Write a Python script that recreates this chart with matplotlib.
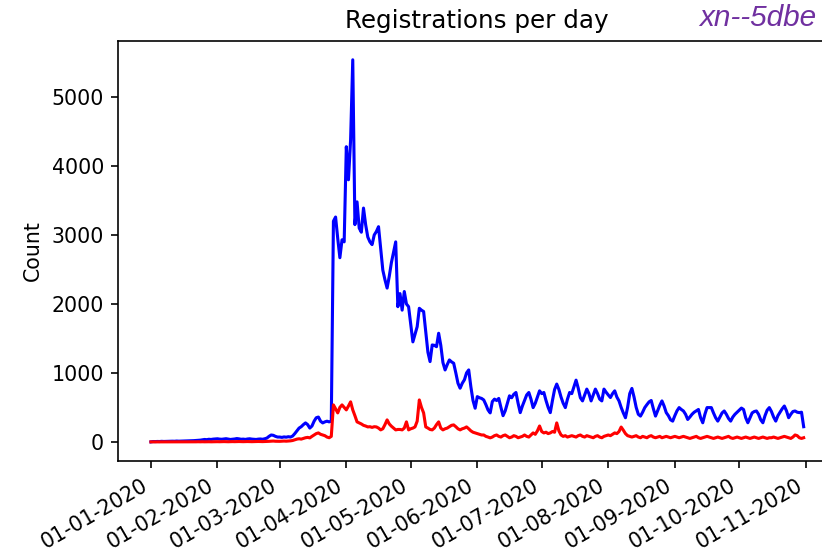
import numpy as np
import pandas as pd
import matplotlib
matplotlib.use("Agg")
import matplotlib.pyplot as plt
import matplotlib.dates as mdates

# daily counts, 01-01-2020 .. 31-10-2020
start_date = "2020-01-01"
end_date = "2020-10-31"

total_jan = [0, 5, 4, 6, 5, 8, 6, 7, 9, 8, 10, 9, 12, 10, 11, 13, 12, 15, 14, 16,
             18, 20, 22, 25, 30, 35, 32, 38, 35, 40, 42]
total_feb = [45, 40, 38, 42, 46, 40, 35, 38, 42, 48, 44, 38, 40, 36, 42, 45, 40, 38,
             35, 40, 42, 38, 45, 55, 80, 100, 95, 80, 70]
total_mar = [70, 65, 72, 68, 75, 70, 85, 120, 160, 200, 220, 250, 275, 250, 200, 230,
             300, 350, 360, 300, 275, 290, 300, 290, 300, 3200, 3260, 2950, 2670, 2930, 2900]
total_apr = [4280, 3800, 4380, 5540, 3150, 3480, 3100, 3040, 3390, 3150, 2970, 2900,
             2860, 3000, 3050, 3120, 2800, 2490, 2350, 2230, 2400, 2600, 2750, 2900,
             1960, 2150, 1910, 2180, 2000, 1960]
total_may = [1700, 1450, 1560, 1670, 1937, 1910, 1890, 1600, 1300, 1164, 1405, 1400,
             1380, 1575, 1400, 1150, 1043, 1120, 1188, 1160, 1140, 1000, 850, 778, 850,
             900, 1000, 1043, 800, 600, 488]
total_jun = [656, 640, 630, 608, 540, 463, 420, 584, 620, 600, 630, 500, 380, 450, 560,
             668, 640, 690, 716, 560, 424, 520, 600, 680, 716, 620, 497, 560, 650, 740]
total_jul = [700, 716, 600, 500, 424, 600, 760, 838, 760, 650, 560, 497, 620, 716, 700,
             800, 895, 780, 640, 594, 680, 765, 700, 594, 680, 765, 700, 620, 594, 765, 720]
total_aug = [680, 643, 700, 740, 650, 594, 500, 420, 350, 500, 700, 775, 650, 500, 400,
             374, 430, 497, 540, 580, 600, 480, 374, 450, 530, 594, 520, 424, 380, 320, 301]
total_sep = [380, 450, 497, 470, 448, 400, 325, 360, 400, 430, 450, 470, 350, 277, 400,
             497, 497, 497, 420, 350, 301, 360, 420, 448, 400, 340, 301, 360, 400, 430]
total_oct = [460, 490, 470, 350, 277, 350, 420, 440, 448, 400, 320, 277, 380, 460, 497,
             440, 360, 301, 380, 430, 480, 520, 450, 350, 400, 440, 448, 430, 424, 430, 220]

sub_jan = [0, 0, 0, 0, 1, 0, 0, 1, 0, 0, 1, 0, 1, 0, 0, 1, 0, 1, 0, 1, 0, 1, 2, 1, 2,
           1, 2, 2, 1, 2, 3]
sub_feb = [3, 2, 3, 4, 3, 2, 3, 4, 3, 4, 5, 4, 3, 4, 5, 4, 3, 4, 5, 6, 5, 4, 5, 6, 8,
           10, 12, 9, 8]
sub_mar = [8, 10, 12, 10, 12, 15, 20, 30, 40, 45, 40, 50, 60, 65, 58, 80, 100, 120,
           130, 110, 100, 90, 70, 60, 80, 536, 480, 420, 500, 536, 500]
sub_apr = [464, 520, 580, 464, 380, 290, 275, 260, 240, 230, 217, 220, 210, 220, 217,
           200, 174, 190, 250, 319, 260, 227, 200, 174, 180, 180, 174, 200, 290, 174]
sub_may = [190, 200, 217, 300, 608, 500, 420, 217, 200, 180, 174, 200, 250, 290, 200,
           174, 190, 200, 220, 240, 246, 220, 190, 174, 190, 200, 217, 190, 160, 140, 130]
sub_jun = [120, 110, 100, 100, 80, 70, 58, 70, 90, 100, 80, 70, 90, 100, 80, 60, 70,
           90, 80, 60, 70, 80, 100, 80, 70, 100, 130, 110, 160, 230]
sub_jul = [150, 130, 140, 120, 130, 150, 140, 275, 160, 100, 80, 90, 70, 80, 90, 80,
           70, 90, 100, 80, 70, 90, 80, 70, 60, 80, 90, 70, 60, 80, 90]
sub_aug = [100, 90, 110, 130, 120, 150, 215, 170, 120, 90, 80, 70, 80, 90, 70, 60, 80,
           70, 60, 80, 90, 70, 60, 70, 80, 60, 70, 80, 70, 60, 70]
sub_sep = [80, 70, 60, 70, 80, 70, 60, 50, 60, 70, 80, 60, 50, 60, 70, 80, 70, 60, 50,
           60, 70, 60, 50, 60, 70, 80, 60, 50, 60, 70]
sub_oct = [60, 50, 60, 70, 60, 50, 60, 70, 60, 50, 60, 70, 60, 50, 60, 60, 70, 60, 50,
           60, 70, 80, 70, 60, 50, 70, 100, 90, 60, 50, 60]

title = "Registrations per day"
ylabel = "Count"
watermark = "xn--5dbe"

total = (total_jan + total_feb + total_mar + total_apr + total_may + total_jun
         + total_jul + total_aug + total_sep + total_oct)
sub = (sub_jan + sub_feb + sub_mar + sub_apr + sub_may + sub_jun
       + sub_jul + sub_aug + sub_sep + sub_oct)
days = pd.date_range(start_date, end_date, freq="D")

DPI = 148
fig = plt.figure(figsize=(822 / DPI, 555 / DPI), dpi=DPI)
# the original screenshot is cut off on the right, so the axes run past the figure edge
ax = fig.add_axes([0.1439, 0.1694, 0.8735, 0.7573])

ax.plot(days, total, color="blue")
ax.plot(days, sub, color="red")

ax.xaxis.set_major_locator(mdates.MonthLocator())
ax.xaxis.set_major_formatter(mdates.DateFormatter("%d-%m-%Y"))
for lbl in ax.get_xticklabels():
    lbl.set_rotation(30)
    lbl.set_ha("right")

ax.set_title(title)
ax.set_ylabel(ylabel)

# purple watermark in the top right corner (kept just inside the figure)
fig.text(816 / 822, 1 - 4 / 555, watermark, color="#7030a0", style="italic",
         family="Liberation Sans", fontsize=14.5, va="top", ha="right")

fig.savefig("out.png", dpi=DPI)
